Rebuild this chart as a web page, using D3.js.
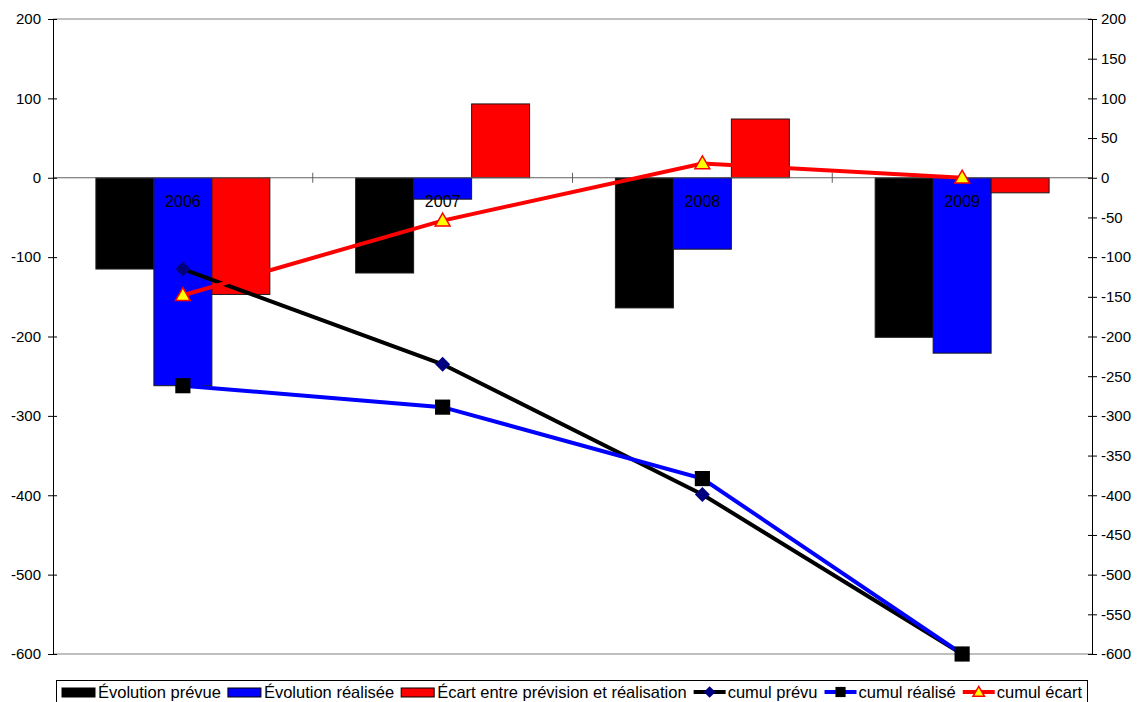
<!DOCTYPE html>
<html>
<head>
<meta charset="utf-8">
<script src="https://cdn.jsdelivr.net/npm/d3@7"></script>
<style>
  html, body { margin: 0; padding: 0; background: #fff; }
  svg { display: block; font-family: "Liberation Sans", Arial, sans-serif; }
</style>
</head>
<body>
<svg id="chart" width="1138" height="702"></svg>
<script>
// Années et séries
const years = ["2006", "2007", "2008", "2009"];
const evolutionPrevue = [-115, -120, -164, -201];
const evolutionRealisee = [-262, -27, -90, -221];
const ecart = [-147, 93, 74, -19];
const cumulPrevu = [-115, -235, -399, -600];
const cumulRealise = [-262, -289, -379, -600];
const cumulEcart = [-148, -54, 18, 0];

const leftTicks = [200, 100, 0, -100, -200, -300, -400, -500, -600];
const rightTicks = [200, 150, 100, 50, 0, -50, -100, -150, -200, -250, -300, -350, -400, -450, -500, -550, -600];

const barSeries = [
  { name: "Évolution prévue", values: evolutionPrevue, fill: "#000000" },
  { name: "Évolution réalisée", values: evolutionRealisee, fill: "#0000ff" },
  { name: "Écart entre prévision et réalisation", values: ecart, fill: "#ff0000" }
];
const lineSeries = [
  { name: "cumul prévu", values: cumulPrevu, stroke: "#000000", marker: "diamond" },
  { name: "cumul réalisé", values: cumulRealise, stroke: "#0000ff", marker: "square" },
  { name: "cumul écart", values: cumulEcart, stroke: "#ff0000", marker: "triangle" }
];

const svg = d3.select("#chart");
const plot = { left: 53, right: 1092, top: 19, bottom: 654 };

const yLeft = d3.scaleLinear().domain([-600, 200]).range([plot.bottom, plot.top]);
const yRight = d3.scaleLinear().domain([-600, 200]).range([plot.bottom, plot.top]);
const x0 = d3.scaleBand().domain(years).range([plot.left, plot.right]).padding(0);
const x1 = d3.scaleBand().domain(barSeries.map(s => s.name))
  .range([0, x0.bandwidth()]).paddingInner(0).paddingOuter(0.74);
const xc = d => x0(d) + x0.bandwidth() / 2;
const plainNumber = d => String(d);

// Bordure haute et basse de la zone de tracé
svg.append("line").attr("x1", plot.left).attr("x2", plot.right)
  .attr("y1", plot.top).attr("y2", plot.top).attr("stroke", "#808080");
svg.append("line").attr("x1", plot.left).attr("x2", plot.right)
  .attr("y1", plot.bottom).attr("y2", plot.bottom).attr("stroke", "#808080");

// Barres
barSeries.forEach(s => {
  svg.append("g").selectAll("rect").data(years).join("rect")
    .attr("x", d => x0(d) + x1(s.name))
    .attr("width", x1.bandwidth())
    .attr("y", (d, i) => yLeft(Math.max(0, s.values[i])))
    .attr("height", (d, i) => Math.abs(yLeft(s.values[i]) - yLeft(0)))
    .attr("fill", s.fill)
    .attr("stroke", "#1a1a1a")
    .attr("stroke-width", 1);
});

// Axe des catégories sur la ligne du zéro
const y0 = yLeft(0);
svg.append("line").attr("x1", plot.left).attr("x2", plot.right)
  .attr("y1", y0).attr("y2", y0).attr("stroke", "#606060").attr("stroke-width", 1);
years.slice(1).forEach(d => {
  svg.append("line").attr("x1", x0(d)).attr("x2", x0(d))
    .attr("y1", y0 - 5).attr("y2", y0 + 5).attr("stroke", "#606060");
});

// Marqueurs
function marker(g, type, cx, cy, scale) {
  if (type === "diamond") {
    g.append("path").attr("d", d3.symbol().type(d3.symbolSquare).size(113 * scale)())
      .attr("transform", `translate(${cx},${cy}) rotate(45)`).attr("fill", "#000080");
  } else if (type === "square") {
    g.append("path").attr("d", d3.symbol().type(d3.symbolSquare).size(230 * scale)())
      .attr("transform", `translate(${cx},${cy})`).attr("fill", "#000000");
  } else {
    g.append("path").attr("d", d3.symbol().type(d3.symbolTriangle).size(95 * scale)())
      .attr("transform", `translate(${cx},${cy + 1})`)
      .attr("fill", "#ffff00").attr("stroke", "#ff0000").attr("stroke-width", 1.5);
  }
}

// Lignes cumulées
const line = d3.line().x(d => xc(d.year)).y(d => yRight(d.v));
lineSeries.forEach(s => {
  const pts = years.map((year, i) => ({ year, v: s.values[i] }));
  svg.append("path").datum(pts).attr("d", line)
    .attr("fill", "none").attr("stroke", s.stroke).attr("stroke-width", 4);
});
lineSeries.forEach(s => {
  const g = svg.append("g");
  years.forEach((year, i) => marker(g, s.marker, xc(year), yRight(s.values[i]), 1));
});

// Libellés des catégories
svg.append("g").selectAll("text").data(years).join("text")
  .attr("x", d => xc(d)).attr("y", y0 + 29)
  .attr("text-anchor", "middle").attr("font-size", 16).attr("fill", "#000")
  .text(d => d);

// Axe de gauche
const axL = svg.append("g").attr("transform", `translate(${plot.left},0)`)
  .call(d3.axisLeft(yLeft).tickValues(leftTicks).tickFormat(plainNumber)
    .tickSize(5).tickSizeOuter(0).tickPadding(7));
axL.select(".domain").attr("stroke", "#000");
axL.selectAll(".tick line").attr("stroke", "#000");
axL.selectAll(".tick").append("line").attr("x1", 0).attr("x2", 4).attr("stroke", "#000");
axL.selectAll("text").attr("font-size", 15).attr("font-family", "Liberation Sans, Arial, sans-serif").attr("fill", "#000");

// Axe de droite
const axR = svg.append("g").attr("transform", `translate(${plot.right},0)`)
  .call(d3.axisRight(yRight).tickValues(rightTicks).tickFormat(plainNumber)
    .tickSize(5).tickSizeOuter(0).tickPadding(4));
axR.select(".domain").attr("stroke", "#000");
axR.selectAll(".tick line").attr("stroke", "#000");
axR.selectAll(".tick").append("line").attr("x1", 0).attr("x2", -4).attr("stroke", "#000");
axR.selectAll("text").attr("font-size", 15).attr("font-family", "Liberation Sans, Arial, sans-serif").attr("fill", "#000");

// Légende
const legend = svg.append("g");
legend.append("rect").attr("x", 56.5).attr("y", 680.5).attr("width", 1031).attr("height", 30)
  .attr("fill", "#fff").attr("stroke", "#000").attr("stroke-width", 1);
let lx = 62;
const ly = 692;
const entries = [
  ...barSeries.map(s => ({ type: "bar", s })),
  ...lineSeries.map(s => ({ type: "line", s }))
];
entries.forEach(e => {
  if (e.type === "bar") {
    legend.append("rect").attr("x", lx).attr("y", ly - 4).attr("width", 33).attr("height", 9)
      .attr("fill", e.s.fill).attr("stroke", "#000").attr("stroke-width", 1);
    lx += 36;
  } else {
    legend.append("line").attr("x1", lx).attr("x2", lx + 32).attr("y1", ly).attr("y2", ly)
      .attr("stroke", e.s.stroke).attr("stroke-width", 4);
    marker(legend, e.s.marker, lx + 16, ly, e.s.marker === "square" ? 0.45 : 0.6);
    lx += 34;
  }
  const t = legend.append("text").attr("x", lx).attr("y", ly + 6)
    .attr("font-size", 16.5).attr("fill", "#000").text(e.s.name);
  lx += t.node().getComputedTextLength() + 7;
});
</script>
</body>
</html>
